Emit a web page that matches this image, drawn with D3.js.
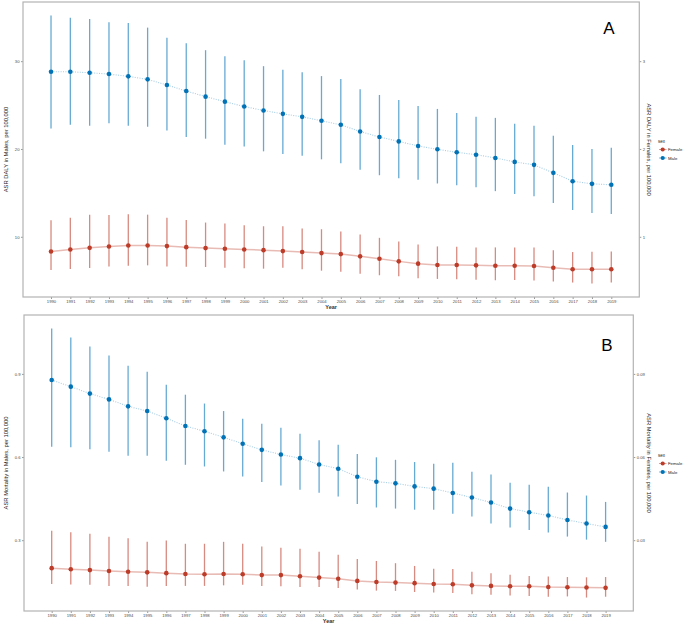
<!DOCTYPE html>
<html>
<head>
<meta charset="utf-8">
<script src="https://cdn.jsdelivr.net/npm/d3@7"></script>
<style>
body { margin: 0; background: #fff; }
text { font-family: "Liberation Sans", Arial, sans-serif; }
</style>
</head>
<body>
<script>
/* Data */
var years = d3.range(1990, 2020);

// Panel A: ASR DALY (males on left axis, females on right axis)
var dalyMale      = [28.79,28.79,28.68,28.53,28.27,27.93,27.28,26.60,25.96,25.39,24.83,24.38,24.00,23.66,23.21,22.75,21.99,21.36,20.86,20.34,19.96,19.62,19.35,18.98,18.53,18.19,17.28,16.33,16.03,15.92];
var dalyMaleUp    = [35.21,34.95,34.79,34.42,34.34,33.82,32.68,32.04,31.25,30.57,30.11,29.43,29.01,28.75,28.30,27.96,26.79,26.15,25.58,24.90,24.56,24.11,23.66,23.54,22.87,22.64,21.51,20.45,20.00,20.15];
var dalyMaleLo    = [22.33,22.75,22.64,22.94,22.64,22.53,22.11,21.36,21.17,20.49,20.29,19.73,19.43,19.24,18.82,18.37,17.62,17.01,16.67,16.49,16.07,15.88,15.65,15.20,14.86,14.63,13.84,13.05,12.71,12.59];
var dalyFemale    = [0.833,0.856,0.874,0.890,0.901,0.901,0.894,0.882,0.871,0.863,0.856,0.848,0.837,0.826,0.814,0.803,0.777,0.750,0.720,0.694,0.678,0.678,0.675,0.671,0.671,0.667,0.648,0.630,0.630,0.630];
var dalyFemaleUp  = [1.188,1.218,1.252,1.248,1.256,1.252,1.218,1.191,1.162,1.150,1.131,1.120,1.120,1.094,1.086,1.060,1.026,0.988,0.947,0.913,0.890,0.886,0.879,0.879,0.879,0.879,0.848,0.826,0.830,0.833];
var dalyFemaleLo  = [0.622,0.633,0.644,0.663,0.671,0.675,0.663,0.660,0.656,0.648,0.641,0.637,0.648,0.630,0.614,0.603,0.580,0.562,0.550,0.528,0.520,0.516,0.512,0.505,0.509,0.501,0.490,0.479,0.467,0.479];

// Panel B: ASR Mortality
var mortMale      = [0.878,0.854,0.829,0.808,0.783,0.766,0.740,0.712,0.693,0.671,0.648,0.626,0.609,0.596,0.573,0.558,0.529,0.511,0.505,0.494,0.486,0.470,0.454,0.436,0.414,0.401,0.389,0.373,0.360,0.348];
var mortMaleUp    = [1.064,1.031,0.999,0.966,0.929,0.908,0.861,0.825,0.793,0.766,0.738,0.720,0.706,0.684,0.661,0.644,0.611,0.599,0.590,0.582,0.576,0.579,0.547,0.537,0.507,0.500,0.493,0.472,0.461,0.438];
var mortMaleLo    = [0.637,0.635,0.628,0.619,0.605,0.605,0.587,0.572,0.566,0.548,0.530,0.510,0.497,0.482,0.471,0.458,0.431,0.418,0.414,0.410,0.410,0.395,0.385,0.360,0.346,0.337,0.328,0.313,0.302,0.294];
var mortFemale    = [0.0199,0.0195,0.0192,0.0189,0.0186,0.0184,0.0181,0.0178,0.0177,0.0178,0.0177,0.0174,0.0174,0.0170,0.0165,0.0161,0.0153,0.0149,0.0147,0.0145,0.0142,0.0141,0.0137,0.0135,0.0134,0.0134,0.0131,0.0130,0.0129,0.0128];
var mortFemaleUp  = [0.0334,0.0329,0.0323,0.0312,0.0307,0.0294,0.0299,0.0287,0.0287,0.0294,0.0287,0.0277,0.0273,0.0269,0.0258,0.0247,0.0232,0.0225,0.0217,0.0207,0.0197,0.0196,0.0186,0.0181,0.0175,0.0171,0.0169,0.0167,0.0166,0.0167];
var mortFemaleLo  = [0.0142,0.0140,0.0139,0.0135,0.0135,0.0132,0.0135,0.0135,0.0135,0.0137,0.0139,0.0135,0.0134,0.0131,0.0131,0.0127,0.0122,0.0118,0.0117,0.0113,0.0111,0.0109,0.0105,0.0103,0.0100,0.0099,0.0096,0.0097,0.0093,0.0096];

var sexLabels = ["Female", "Male"];
var colors = {Female: "#BC3C29", Male: "#0072B5"};

/* Display setup */
var W = 685, H = 629,
	svg = d3.select("body").append("svg").attr("width", W).attr("height", H);

var panels = [
	{
		letter: "A", box: {left: 23, right: 639.3, top: 2, bottom: 297},
		yLeftTitle: "ASR DALY in Males, per 100,000",
		yRightTitle: "ASR DALY in Females, per 100,000",
		leftTicks: [10, 20, 30], rightTicks: [1, 2, 3],
		leftFmt: d3.format("d"), rightFmt: d3.format("d"),
		male: [dalyMale, dalyMaleLo, dalyMaleUp],
		female: [dalyFemale, dalyFemaleLo, dalyFemaleUp],
		letterPos: [609, 34], legendY: 141
	},
	{
		letter: "B", box: {left: 24, right: 633.3, top: 315, bottom: 611},
		yLeftTitle: "ASR Mortality in Males, per 100,000",
		yRightTitle: "ASR Mortality in Females, per 100,000",
		leftTicks: [0.3, 0.6, 0.9], rightTicks: [0.03, 0.06, 0.09],
		leftFmt: d3.format(".1f"), rightFmt: d3.format(".2f"),
		male: [mortMale, mortMaleLo, mortMaleUp],
		female: [mortFemale, mortFemaleLo, mortFemaleUp],
		letterPos: [607, 351], legendY: 455
	}
];

panels.forEach(drawPanel);

function drawPanel(p) {
	var b = p.box,
		g = svg.append("g");

	// Female values live on the secondary axis (primary / 10)
	var k = 10;
	var all = p.male[1].concat(p.male[2], p.female[1].map(function(v){ return v * k; }), p.female[2].map(function(v){ return v * k; }));
	var ext = d3.extent(all), pad = (ext[1] - ext[0]) * 0.05;
	var xPad = (years[years.length - 1] - years[0]) * 0.05;

	var x = d3.scaleLinear()
		.domain([years[0] - xPad, years[years.length - 1] + xPad])
		.range([b.left, b.right]);
	var y = d3.scaleLinear().domain([ext[0] - pad, ext[1] + pad]).range([b.bottom, b.top]);
	var y2 = d3.scaleLinear().domain([(ext[0] - pad) / k, (ext[1] + pad) / k]).range([b.bottom, b.top]);

	// axes
	var xAxis = g.append("g").attr("transform", "translate(0," + b.bottom + ")")
		.call(d3.axisBottom(x).tickValues(years).tickFormat(d3.format("d")).tickSize(2).tickPadding(1.5));
	var yAxis = g.append("g").attr("transform", "translate(" + b.left + ",0)")
		.call(d3.axisLeft(y).tickValues(p.leftTicks).tickFormat(p.leftFmt).tickSize(2).tickPadding(1.5));
	var yAxis2 = g.append("g").attr("transform", "translate(" + b.right + ",0)")
		.call(d3.axisRight(y2).tickValues(p.rightTicks).tickFormat(p.rightFmt).tickSize(2).tickPadding(1.5));
	[xAxis, yAxis, yAxis2].forEach(function(a){
		a.select(".domain").remove();
		a.selectAll(".tick line").attr("stroke", "#555").attr("stroke-width", 0.6);
		a.selectAll(".tick text").attr("fill", "#4d4d4d").style("font-size", "4.2px");
	});

	// border
	g.append("rect")
		.attr("x", b.left).attr("y", b.top)
		.attr("width", b.right - b.left).attr("height", b.bottom - b.top)
		.attr("fill", "none").attr("stroke", "#b3b3b3").attr("stroke-width", 1.2);

	// series
	var series = [
		{sex: "Female", vals: p.female, scale: y2, dash: null},
		{sex: "Male", vals: p.male, scale: y, dash: "1,1.4"}
	];
	series.forEach(function(s){
		var c = colors[s.sex], ys = s.scale;
		var rows = years.map(function(yr, i){ return {year: yr, v: s.vals[0][i], lo: s.vals[1][i], hi: s.vals[2][i]}; });

		g.append("g").selectAll("line")
			.data(rows)
			.enter().append("line")
				.attr("x1", function(d){ return x(d.year); })
				.attr("x2", function(d){ return x(d.year); })
				.attr("y1", function(d){ return ys(d.lo); })
				.attr("y2", function(d){ return ys(d.hi); })
				.attr("stroke", c).attr("stroke-opacity", 0.6).attr("stroke-width", 1.3);

		g.append("path")
			.datum(rows)
			.attr("fill", "none")
			.attr("stroke", c).attr("stroke-opacity", 0.35)
			.attr("stroke-width", s.dash ? 1.1 : 1.5)
			.attr("stroke-dasharray", s.dash)
			.attr("d", d3.line().x(function(d){ return x(d.year); }).y(function(d){ return ys(d.v); }));

		g.append("g").selectAll("circle")
			.data(rows)
			.enter().append("circle")
				.attr("cx", function(d){ return x(d.year); })
				.attr("cy", function(d){ return ys(d.v); })
				.attr("r", 2.3)
				.attr("fill", c);
	});

	// titles
	g.append("text")
		.attr("x", (b.left + b.right) / 2).attr("y", b.bottom + 12)
		.attr("text-anchor", "middle").style("font-size", "5.5px").style("font-weight", "bold").attr("fill", "#333")
		.text("Year");
	g.append("text")
		.attr("transform", "translate(7.5," + (b.top + b.bottom) / 2 + ") rotate(-90)")
		.attr("text-anchor", "middle").style("font-size", "5.8px").attr("fill", "#222")
		.text(p.yLeftTitle);
	g.append("text")
		.attr("transform", "translate(646.5," + (b.top + b.bottom) / 2 + ") rotate(90)")
		.attr("text-anchor", "middle").style("font-size", "5.8px").attr("fill", "#222")
		.text(p.yRightTitle);
	g.append("text")
		.attr("x", p.letterPos[0]).attr("y", p.letterPos[1])
		.attr("text-anchor", "middle").style("font-size", "17px")
		.text(p.letter);

	// legend
	var lg = g.append("g").attr("transform", "translate(658," + p.legendY + ")");
	lg.append("text").attr("x", 0).attr("y", 1.5).style("font-size", "4.5px").attr("fill", "#222").text("sex");
	var item = lg.selectAll("g.item")
		.data(sexLabels)
		.enter().append("g")
			.attr("class", "item")
			.attr("transform", function(d, i){ return "translate(0," + (8.5 + i * 8.5) + ")"; });
	item.append("line").attr("x1", 1).attr("x2", 8.5)
		.attr("stroke", function(d){ return colors[d]; }).attr("stroke-opacity", 0.5).attr("stroke-width", 1);
	item.append("circle").attr("cx", 4.7).attr("r", 2.1).attr("fill", function(d){ return colors[d]; });
	item.append("text").attr("x", 10).attr("y", 1.6).style("font-size", "4.3px").attr("fill", "#222")
		.text(function(d){ return d; });
}
</script>
</body>
</html>
